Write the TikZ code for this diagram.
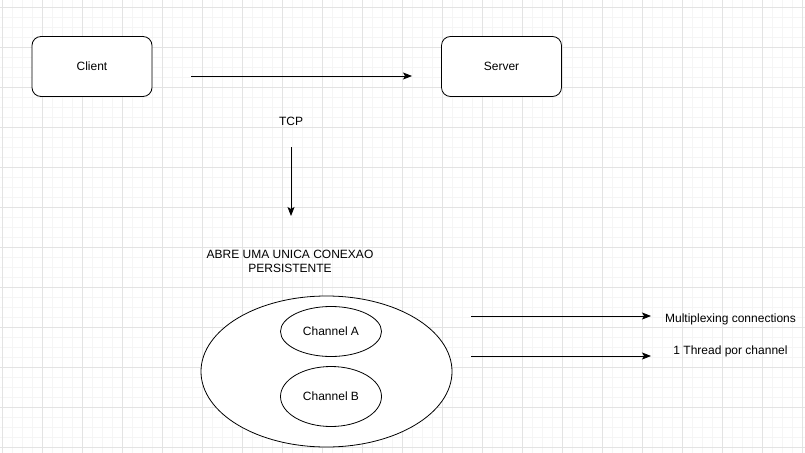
\documentclass[tikz,border=0pt]{standalone}
\usepackage{fontspec}
\setmainfont{Liberation Sans}
\usetikzlibrary{arrows.meta,shapes.geometric}

\tikzset{
  box/.style={draw, thick, rounded corners=9pt, minimum width=120pt, minimum height=60pt, fill=white},
  oval/.style={draw, thick, ellipse, fill=white, inner sep=0pt},
  label/.style={font=\fontsize{12}{14}\selectfont, align=center},
  link/.style={thick, -{Stealth[length=9pt,width=7pt,inset=2pt]}}
}

\begin{document}
\begin{tikzpicture}[x=1pt,y=-1pt]
\useasboundingbox (0,0) rectangle (805,452);
\fill[white] (0,0) rectangle (805,452);
\begin{scope}
\clip (0,0) rectangle (805,452);
\draw[step=10pt,color=gray!8,very thin,shift={(1.7pt,-6.7pt)}] (-10,-10) grid (810,460);
\draw[step=40pt,color=gray!22,very thin,shift={(1.7pt,-6.7pt)}] (-40,-40) grid (840,480);
\end{scope}

\node[box,label] (client) at (92,66.5) {Client};
\node[box,label] (server) at (501.5,66.5) {Server};
\coordinate (c1) at (191,76);
\coordinate (c2) at (412,76);
\draw[link] (c1) -- (c2);

\node[label] (tcp) at (291,121) {TCP};
\coordinate (t1) at (291,147);
\coordinate (t2) at (291,216);
\draw[link] (t1) -- (t2);

\node[label] (abre) at (290,261) {ABRE UMA UNICA CONEXAO\\PERSISTENTE};

\node[oval,minimum width=251pt,minimum height=151pt] (conn) at (326.5,371.5) {};
\node[oval,label,minimum width=101pt,minimum height=50pt] (chA) at (331,331.5) {Channel A};
\node[oval,label,minimum width=101pt,minimum height=60pt] (chB) at (331,396.5) {Channel B};

\coordinate (m1) at (471,316);
\coordinate (m2) at (651,316);
\draw[link] (m1) -- (m2);
\node[label] (mux) at (730.5,319) {Multiplexing connections};

\coordinate (p1) at (471,356);
\coordinate (p2) at (651,356);
\draw[link] (p1) -- (p2);
\node[label] (thread) at (730.5,351) {1 Thread por channel};

\end{tikzpicture}
\end{document}
